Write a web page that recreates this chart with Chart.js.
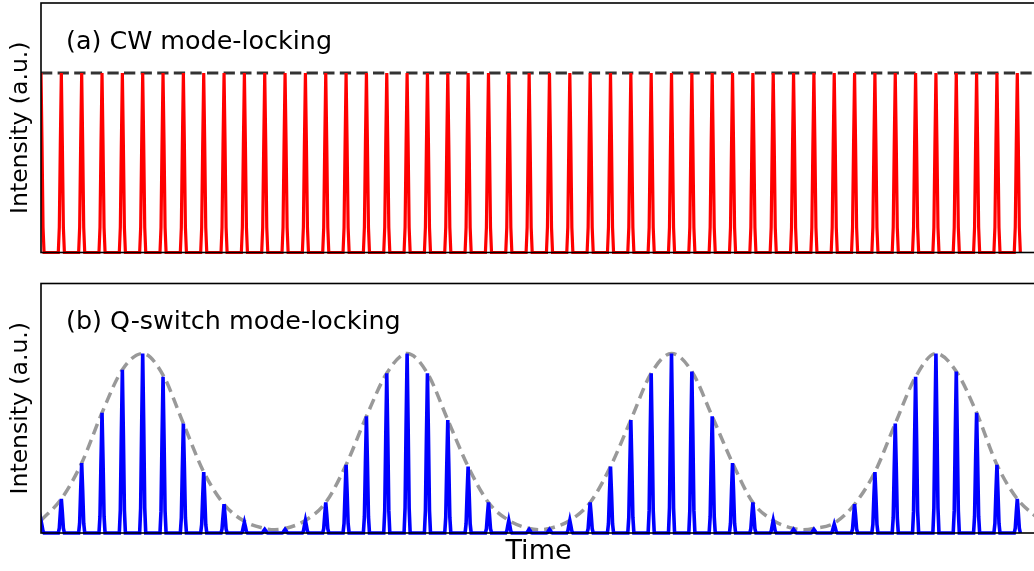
<!DOCTYPE html>
<html><head><meta charset="utf-8">
<script src="https://cdn.jsdelivr.net/npm/chart.js@4.4.1/dist/chart.umd.min.js"></script>
<style>
html,body{margin:0;padding:0;background:#fff;overflow:hidden;width:1034px;height:571px;position:relative;}
#c1{position:absolute;left:0;top:0;}
#c2{position:absolute;left:0;top:280px;}
</style></head><body>
<canvas id="c1" width="1040" height="256"></canvas>
<canvas id="c2" width="1040" height="291"></canvas>
<script>
// ---- data ----
const pulseTimes = [0,1,2,3,4,5,6,7,8,9,10,11,12,13,14,15,16,17,18,19,20,21,22,23,24,25,26,27,28,29,30,31,32,33,34,35,36,37,38,39,40,41,42,43,44,45,46,47,48];
const cwHeights = [1,1,1,1,1,1,1,1,1,1,1,1,1,1,1,1,1,1,1,1,1,1,1,1,1,1,1,1,1,1,1,1,1,1,1,1,1,1,1,1,1,1,1,1,1,1,1,1,1];
const cwLevelT = [0, 48.92];
const cwLevelY = [1, 1];
const qsHeights = [0.07,0.19,0.39,0.67,0.91,1.00,0.87,0.61,0.34,0.16,0.06,0.02,0.02,
                   0.07,0.17,0.38,0.65,0.89,1.00,0.89,0.63,0.37,0.17,0.07,0.02,0.02,
                   0.07,0.17,0.37,0.63,0.89,1.00,0.90,0.65,0.39,0.17,0.07,0.02,0.02,
                   0.05,0.16,0.34,0.61,0.87,1.00,0.90,0.67,0.38,0.19];
const envT = [0,1,2,3,4,5,6,7,8,9,10,11,11.5,12,13,14,15,16,17,18,19,20,21,22,23,24,24.5,25,26,27,28,29,30,31,32,33,34,35,36,37,37.5,38,39,40,41,42,43,44,45,46,47,48,48.92];
const envY = [0.07,0.19,0.39,0.67,0.91,1.00,0.88,0.61,0.34,0.16,0.065,0.025,0.018,0.025,
              0.07,0.17,0.38,0.65,0.89,1.00,0.89,0.63,0.37,0.17,0.07,0.025,0.018,0.025,
              0.07,0.17,0.37,0.63,0.89,1.00,0.90,0.65,0.39,0.17,0.07,0.025,0.018,0.025,
              0.055,0.16,0.34,0.61,0.87,1.00,0.90,0.67,0.38,0.19,0.09];
const panelTitles = ['(a) CW mode-locking', '(b) Q-switch mode-locking'];
const yLabel = 'Intensity (a.u.)';
const xLabel = 'Time';
const xMin = 0, xMax = 48.92, yMax = 1.39;

// pulse profile (shape style)
const PULSE_OFF = [-0.15,-0.1,-0.05,0,0.05,0.1,0.15];
const PULSE_SHAPE = [0,0.14,0.6,1,0.6,0.14,0];

function pulseTrain(times, heights){
  const pts = [];
  times.forEach((t,i)=>{
    PULSE_OFF.forEach((o,k)=>pts.push({x:t+o, y:heights[i]*PULSE_SHAPE[k]}));
  });
  return pts;
}
function pairs(xs, ys){ return xs.map((x,i)=>({x, y:ys[i]})); }

const FONT = 'DejaVu Sans';

function framePlugin(title){
  return {
    id:'frame',
    afterDatasetsDraw(chart){
      const {ctx, chartArea:a} = chart;
      ctx.save();
      ctx.strokeStyle = '#000';
      ctx.lineWidth = 1.6;
      ctx.strokeRect(a.left, a.top, a.right - a.left, a.bottom - a.top);
      ctx.fillStyle = '#000';
      ctx.font = '25.4px "' + FONT + '"';
      ctx.textBaseline = 'alphabetic';
      ctx.fillText(title, a.left + 25, a.top + 45.5);
      ctx.restore();
    }
  };
}

function makeChart(id, datasets, o){
  return new Chart(document.getElementById(id), {
    type:'line',
    data:{datasets},
    options:{
      responsive:false, animation:false, devicePixelRatio:1,
      parsing:false,
      layout:{padding:{left:0,right:4,top:o.padTop,bottom:0}},
      plugins:{legend:{display:false}, tooltip:{enabled:false}},
      elements:{point:{radius:0}, line:{tension:0}},
      scales:{
        x:{type:'linear', min:xMin, max:xMax,
           grid:{display:false}, border:{display:false}, ticks:{display:false},
           title:{display:o.xTitle, text:xLabel, color:'#000', font:{family:FONT, size:27}, padding:{top:0,bottom:3}},
           afterFit:s=>{s.height = o.xHeight;}},
        y:{type:'linear', min:0, max:yMax,
           grid:{display:false}, border:{display:false}, ticks:{display:false},
           title:{display:true, text:yLabel, color:'#000', font:{family:FONT, size:23.5}, padding:{top:7,bottom:0}},
           afterFit:s=>{s.width = 41;}}
      }
    },
    plugins:[framePlugin(o.title)]
  });
}

const clipOpt = {left:0, top:0, right:0, bottom:2};

makeChart('c1', [
  {data:pulseTrain(pulseTimes, cwHeights), borderColor:'#ff0000', borderWidth:3.2, fill:false, clip:clipOpt},
  {data:pairs(cwLevelT, cwLevelY), borderColor:'rgba(0,0,0,0.8)', borderWidth:3.2, borderDash:[11.3,5.3], fill:false, clip:clipOpt}
], {padTop:3, xHeight:3.5, xTitle:false, title:panelTitles[0]});

makeChart('c2', [
  {data:pulseTrain(pulseTimes, qsHeights), borderColor:'#0000ff', borderWidth:3.6, fill:false, clip:clipOpt},
  {data:pairs(envT, envY), borderColor:'#999999', borderWidth:3.5, borderDash:[11,6], cubicInterpolationMode:'monotone', fill:false, clip:clipOpt}
], {padTop:3.5, xHeight:38, xTitle:true, title:panelTitles[1]});
</script>
</body></html>
